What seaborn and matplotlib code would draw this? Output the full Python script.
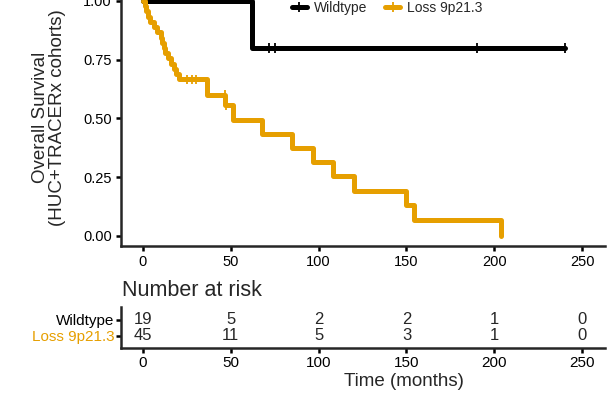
import matplotlib
matplotlib.use("Agg")
import matplotlib.pyplot as plt
from matplotlib.lines import Line2D
import seaborn as sns
import pandas as pd

# Kaplan-Meier steps
wt_time = [0, 62, 240]
wt_surv = [1.0, 0.80, 0.80]
wt_cens_time = [72, 75, 190, 240]
wt_cens_surv = [0.80, 0.80, 0.80, 0.80]

loss_time = [0, 1, 2, 3, 4, 6, 8, 10, 11, 11.8, 12.5, 14, 16, 17.5, 19, 20.5,
             36.5, 46.8, 51.5, 68, 85, 97, 108, 120, 150, 154, 204]
loss_surv = [1.0, 0.978, 0.956, 0.933, 0.911, 0.889, 0.867, 0.844, 0.822, 0.80,
             0.778, 0.756, 0.733, 0.711, 0.689, 0.667, 0.60, 0.557, 0.494, 0.435,
             0.374, 0.315, 0.255, 0.19, 0.13, 0.068, 0.0]
loss_cens_time = [25, 27.7, 30.2, 46.5, 47.2]
loss_cens_surv = [0.667, 0.667, 0.667, 0.60, 0.557]

groups = ["Wildtype", "Loss 9p21.3"]
colors = ["black", "#E69F00"]

risk_times = [0, 50, 100, 150, 200, 250]
wt_risk = [19, 5, 2, 2, 1, 0]
loss_risk = [45, 11, 5, 3, 1, 0]

y_ticks = [0, 0.25, 0.5, 0.75, 1.0]
x_ticks = [0, 50, 100, 150, 200, 250]

surv_df = pd.concat([
    pd.DataFrame({"time": wt_time, "surv": wt_surv, "group": groups[0]}),
    pd.DataFrame({"time": loss_time, "surv": loss_surv, "group": groups[1]}),
])
cens_df = pd.concat([
    pd.DataFrame({"time": wt_cens_time, "surv": wt_cens_surv, "group": groups[0]}),
    pd.DataFrame({"time": loss_cens_time, "surv": loss_cens_surv, "group": groups[1]}),
])
pal = dict(zip(groups, colors))

sns.set_style("ticks")
plt.rcParams["font.family"] = ["Liberation Sans", "DejaVu Sans"]
plt.rcParams["axes.linewidth"] = 1.8

fig = plt.figure(figsize=(6.13, 3.97), dpi=100)
W, H = 613, 397

ax = fig.add_axes([121 / W, (H - 246) / H, 484 / W, 256.75 / H])
sns.lineplot(data=surv_df, x="time", y="surv", hue="group", hue_order=groups,
             palette=pal, drawstyle="steps-post", estimator=None, sort=False,
             linewidth=3.6, legend=False, ax=ax)
sns.scatterplot(data=cens_df, x="time", y="surv", hue="group", hue_order=groups,
                palette=pal, marker="|", s=45, linewidth=1.3, legend=False, ax=ax)
ax.set_xlim(-12.5, 263)
ax.set_ylim(-0.0426, 1.05)
ax.set_xticks(x_ticks)
ax.set_yticks(y_ticks)
ax.set_yticklabels(["0.00", "0.25", "0.50", "0.75", "1.00"])
ax.tick_params(labelsize=10.5, length=3.6, width=1.8, pad=3, colors="black")
ax.set_xlabel("")
ax.set_ylabel("Overall Survival\n(HUC+TRACERx cohorts)", fontsize=13.5,
              labelpad=12, linespacing=1.05)
sns.despine(ax=ax)

handles = [Line2D([0], [0], color=c, lw=3.6, marker="|", markersize=7, mew=1.3)
           for c in colors]
fig.legend(handles, groups, loc="center left", bbox_to_anchor=(279 / W, 1 - 8 / H),
           ncol=2, frameon=False, fontsize=10, handlelength=1.1, columnspacing=1.3,
           handletextpad=0.5)

# risk table
rax = fig.add_axes([121 / W, (H - 348) / H, 484 / W, 41 / H])
for t, a, b in zip(risk_times, wt_risk, loss_risk):
    rax.text(t, 2, str(a), ha="center", va="center", fontsize=12)
    rax.text(t, 1, str(b), ha="center", va="center", fontsize=12)
rax.set_xlim(-12.5, 263)
rax.set_ylim(0.25, 2.8)
rax.set_xticks(x_ticks)
rax.set_yticks([1, 2])
rax.set_yticklabels([groups[1], groups[0]])
rax.tick_params(axis="x", labelsize=11, length=3.6, width=1.8, pad=2, colors="black")
rax.tick_params(axis="y", labelsize=11, length=3.6, width=1.8, pad=1, colors="black")
rax.get_yticklabels()[0].set_color(colors[1])
sns.despine(ax=rax)

fig.text(122 / W, 1 - 291 / H, "Number at risk", fontsize=15.5, va="center", ha="left")
fig.text(404 / W, 1 - 382 / H, "Time (months)", fontsize=13.5, va="center", ha="center")

fig.savefig("out.png", dpi=100)
